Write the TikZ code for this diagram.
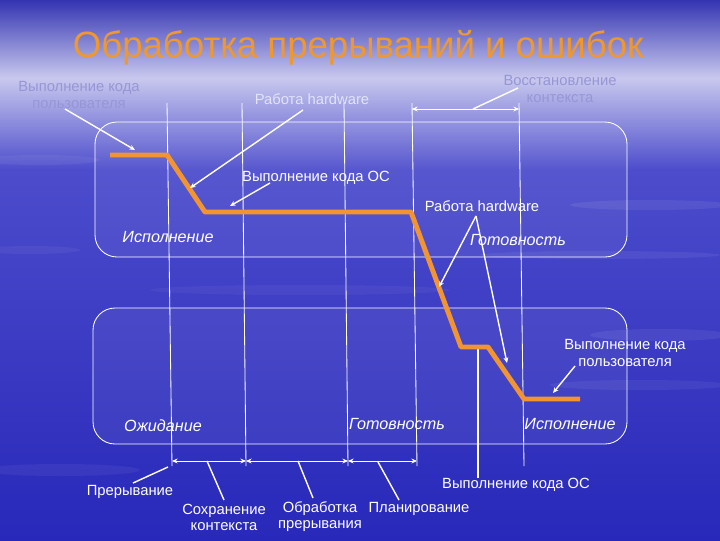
\documentclass[tikz,border=0pt]{standalone}
\usepackage{fontspec}
\setmainfont{Liberation Sans}
\usetikzlibrary{arrows.meta}
\definecolor{skyDark}{RGB}{52,52,178}
\definecolor{skyBand}{RGB}{200,200,238}
\definecolor{skyMid}{RGB}{76,76,204}
\definecolor{skyLow}{RGB}{40,40,186}
\definecolor{titleOrange}{RGB}{240,152,44}
\definecolor{trackOrange}{RGB}{242,148,48}
\definecolor{faintText}{RGB}{150,150,214}

\begin{document}
\begin{tikzpicture}[x=0.025cm, y=-0.025cm,
		lbl/.style={text=white, font=\fontsize{10.5}{11.5}\selectfont, align=center, inner sep=0pt},
		faint/.style={lbl, text=faintText},
		statelbl/.style={text=white, font=\fontsize{11.5}{13}\selectfont\itshape, inner sep=0pt},
		statebox/.style={draw=white, line width=0.6pt, rounded corners=0.55cm, fill=white, fill opacity=0.06},
		vline/.style={white, line width=0.6pt},
		dimline/.style={white, line width=0.6pt, {Stealth[length=4pt,width=3.5pt]}-{Stealth[length=4pt,width=3.5pt]}},
		ptr/.style={white, line width=1pt, -{Stealth[length=4pt,width=3.5pt]}},
		ptrplain/.style={white, line width=1pt},
		track/.style={trackOrange, line width=3.5pt, line join=round}]
		%%%%% START %%%%%
		
		\useasboundingbox (0,0) rectangle (720,540);
		\shade[top color=skyDark, bottom color=skyBand] (0,0) rectangle (720,78);
		\shade[top color=skyBand, bottom color=skyMid] (0,78) rectangle (720,170);
		\shade[top color=skyMid, bottom color=skyLow] (0,170) rectangle (720,540);
		
		% cloud streaks
		\fill[white, opacity=0.07] (650,205) ellipse (80 and 5);
		\fill[white, opacity=0.06] (600,255) ellipse (120 and 4);
		\fill[white, opacity=0.07] (660,335) ellipse (70 and 6);
		\fill[white, opacity=0.06] (640,385) ellipse (90 and 5);
		\fill[white, opacity=0.06] (40,160) ellipse (60 and 5);
		\fill[white, opacity=0.05] (30,250) ellipse (50 and 4);
		\fill[white, opacity=0.05] (60,470) ellipse (80 and 6);
		\fill[white, opacity=0.04] (300,290) ellipse (150 and 5);
		
		% title
		\node[font=\fontsize{26}{30}\selectfont, text=titleOrange, inner sep=0pt] (title) at (358,48) {Обработка прерываний и ошибок};
		
		% state boxes
		\draw[statebox] (95,122) rectangle (627,257);
		\draw[statebox] (93,308) rectangle (627,444);
		
		% time marks
		\foreach \xt/\xb [count=\i] in {167/172, 242/246, 344/348, 412/417, 519/524} {
			\coordinate (mt\i) at (\xt,103);
			\coordinate (mb\i) at (\xb,466);
			\draw[vline] (mt\i) -- (mb\i);
		}
		\coordinate (osTop) at (478,349);
		\coordinate (osBot) at (478,478);
		\draw[white, line width=1.4pt] (osTop) -- (osBot);
		
		% spans
		\coordinate (restoreL) at (412,109);
		\coordinate (restoreR) at (519,109);
		\coordinate (restoreM) at (473,109);
		\draw[dimline] (restoreL) -- (restoreR);
		\coordinate (s1) at (172,461);
		\coordinate (s2) at (246,461);
		\coordinate (s3) at (348,461);
		\coordinate (s4) at (417,461);
		\draw[dimline] (s1) -- (s2);
		\draw[dimline] (s2) -- (s3);
		\draw[dimline] (s3) -- (s4);
		
		% track
		\coordinate (t1) at (110,155);
		\coordinate (t2) at (167,155);
		\coordinate (t3) at (205,212);
		\coordinate (t4) at (411,212);
		\coordinate (t5) at (461,347);
		\coordinate (t6) at (488,347);
		\coordinate (t7) at (524,399);
		\coordinate (t8) at (580,399);
		\draw[track] (t1) -- (t2) -- (t3) -- (t4) -- (t5) -- (t6) -- (t7) -- (t8);
		
		% states
		\node[statelbl] (runTop) at (168,237) {Исполнение};
		\node[statelbl] (readyTop) at (518,240) {Готовность};
		\node[statelbl] (waitBot) at (163,426) {Ожидание};
		\node[statelbl] (readyBot) at (397,424) {Готовность};
		\node[statelbl] (runBot) at (570,424) {Исполнение};
		
		% labels
		\node[faint] (userTop) at (79,95) {Выполнение кода\\пользователя};
		\node[lbl, text=skyBand!50!white] (hwTop) at (312,99) {Работа hardware};
		\node[faint] (restore) at (560,89) {Восстановление\\контекста};
		\node[lbl] (osCode) at (316,178) {Выполнение кода ОС};
		\node[lbl] (hwMid) at (482,206) {Работа hardware};
		\node[lbl] (userRight) at (625,353) {Выполнение кода\\пользователя};
		\node[lbl] (intr) at (130,492) {Прерывание};
		\node[lbl] (save) at (224,517) {Сохранение\\контекста};
		\node[lbl] (proc) at (320,517) {Обработка\\прерывания};
		\node[lbl] (plan) at (419,509) {Планирование};
		\node[lbl] (osLow) at (516,485) {Выполнение кода ОС};
		
		% pointers
		\coordinate (pUserA) at (65,109);
		\coordinate (pUserB) at (135,150);
		\draw[ptr] (pUserA) -- (pUserB);
		\coordinate (pHwA) at (303,110);
		\coordinate (pHwB) at (190,188);
		\draw[ptr] (pHwA) -- (pHwB);
		\coordinate (pRestA) at (518,88);
		\draw[ptrplain] (pRestA) -- (restoreM);
		\coordinate (pOsA) at (270,183);
		\coordinate (pOsB) at (230,206);
		\draw[ptr] (pOsA) -- (pOsB);
		\coordinate (pHw2A) at (476,216);
		\coordinate (pHw2B) at (439,287);
		\coordinate (pHw2C) at (507,363);
		\draw[ptr] (pHw2A) -- (pHw2B);
		\draw[ptr] (pHw2A) -- (pHw2C);
		\coordinate (pUsrA) at (575,366);
		\coordinate (pUsrB) at (553,393);
		\draw[ptr] (pUsrA) -- (pUsrB);
		\coordinate (pIntA) at (133,483);
		\coordinate (pIntB) at (168,467);
		\draw[ptrplain] (pIntA) -- (pIntB);
		\coordinate (pSaveA) at (207,461);
		\coordinate (pSaveB) at (224,500);
		\draw[ptrplain] (pSaveA) -- (pSaveB);
		\coordinate (pProcA) at (298,461);
		\coordinate (pProcB) at (313,498);
		\draw[ptrplain] (pProcA) -- (pProcB);
		\coordinate (pPlanA) at (378,462);
		\coordinate (pPlanB) at (399,500);
		\draw[ptrplain] (pPlanA) -- (pPlanB);
		
		%%%%% END %%%%%
	\end{tikzpicture}
\end{document}
